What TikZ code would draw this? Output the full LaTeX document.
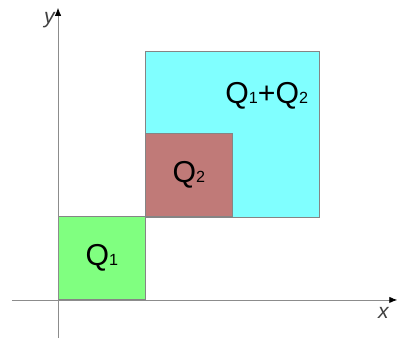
\documentclass[tikz,border=0pt]{standalone}
\usepackage{fontspec}
\setmainfont{Liberation Sans}
\usepackage{xcolor}
\usetikzlibrary{arrows.meta,positioning}

\definecolor{qgreen}{HTML}{80FF80}
\definecolor{qbrown}{HTML}{C07A78}
\definecolor{qcyan}{HTML}{80FFFF}
\definecolor{qedge}{HTML}{858585}

\newcommand{\qlab}[1]{Q{\fontsize{11.5}{12}\selectfont #1}}

\begin{document}
\begin{tikzpicture}[
  x=2.175cm, y=2.075cm,
  axis/.style={draw=black!45, line width=0.6pt, -{Latex[length=2mm,width=1.6mm,color=black]}},
  qbox/.style={draw=qedge, line width=0.6pt, anchor=south west,
               minimum width=2.175cm, minimum height=2.075cm,
               inner sep=0pt, font=\fontsize{21.5}{24}\selectfont},
  lab/.style={font=\fontsize{21.5}{24}\selectfont, inner sep=0pt},
  axlab/.style={font=\fontsize{15}{18}\selectfont\itshape, text=black!75}
]
\useasboundingbox (-0.667,-0.482) rectangle (3.908,3.614);

% bigger box behind
\draw[draw=qedge, line width=0.6pt, fill=qcyan] (1,1) rectangle (3,3);
\node[lab] (qsum) at (2.4,2.46) {\qlab{1}+\qlab{2}};

\node[qbox, fill=qgreen] (q1) at (0,0) {\qlab{1}};
\node[qbox, fill=qbrown] (q2) at (1,1) {\qlab{2}};

% axes
\coordinate (xs) at (-0.53,0);
\coordinate (xe) at (3.9,0);
\coordinate (ys) at (0,-0.46);
\coordinate (ye) at (0,3.52);
\draw[axis] (xs) -- (xe);
\draw[axis] (ys) -- (ye);
\node[axlab] (xl) at (3.74,-0.16) {x};
\node[axlab] (yl) at (-0.1,3.37) {y};
\end{tikzpicture}
\end{document}
